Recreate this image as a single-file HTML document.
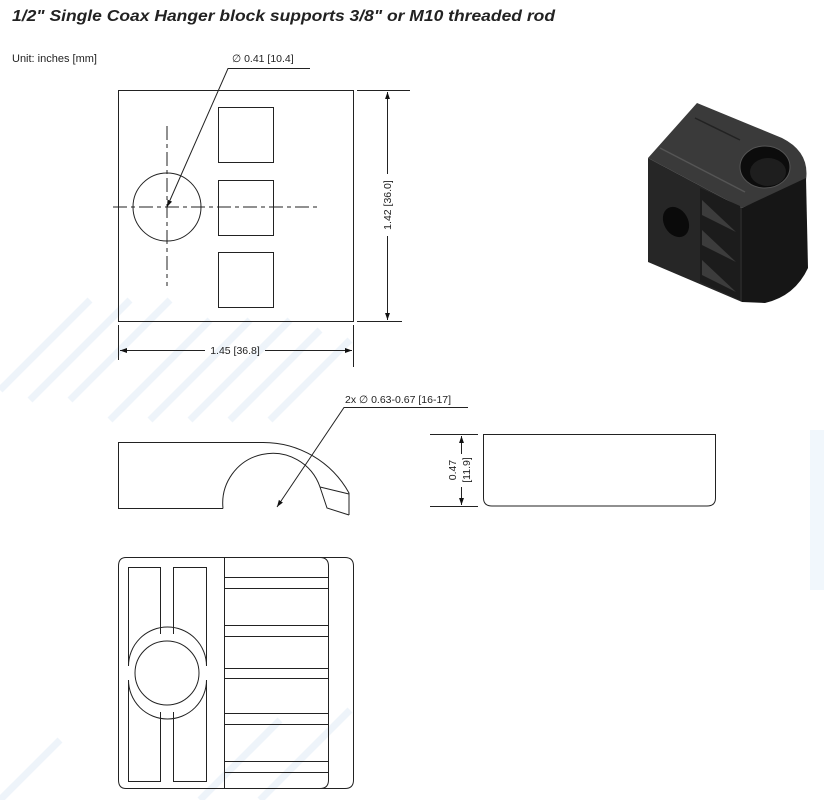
<!DOCTYPE html>
<html><head><meta charset="utf-8"><style>
html,body{margin:0;padding:0;background:#fff;}
svg{display:block;}
text{font-family:"Liberation Sans",sans-serif;fill:#222;}
</style></head><body>
<svg width="824" height="800" viewBox="0 0 824 800" xmlns="http://www.w3.org/2000/svg">
<defs>
<marker id="a" viewBox="0 0 10 10" refX="10" refY="5" markerWidth="7" markerHeight="7" orient="auto-start-reverse"><path d="M0,1.5 L10,5 L0,8.5 Z" fill="#111"/></marker>
</defs>
<rect width="824" height="800" fill="#fff"/>
<g stroke="#eef4fa" stroke-width="7">
<line x1="0" y1="390" x2="90" y2="300"/><line x1="30" y1="400" x2="130" y2="300"/><line x1="70" y1="400" x2="170" y2="300"/>
<line x1="110" y1="420" x2="210" y2="320"/><line x1="150" y1="420" x2="250" y2="320"/><line x1="190" y1="420" x2="290" y2="320"/>
<line x1="230" y1="420" x2="320" y2="330"/><line x1="270" y1="420" x2="350" y2="340"/>
<line x1="0" y1="800" x2="60" y2="740"/><line x1="200" y1="800" x2="280" y2="720"/><line x1="260" y1="800" x2="350" y2="710"/>
</g>
<rect x="810" y="430" width="14" height="160" fill="#f1f7fc"/>

<text x="12" y="21" font-size="16" font-weight="bold" font-style="italic" textLength="543" lengthAdjust="spacingAndGlyphs">1/2" Single Coax Hanger block supports  3/8" or M10 threaded rod</text>
<text x="12" y="62" font-size="11">Unit: inches [mm]</text>

<g fill="none" stroke="#222" stroke-width="1">
<rect x="118.5" y="90.5" width="235" height="231"/>
<rect x="218.5" y="107.5" width="55" height="55"/>
<rect x="218.5" y="180.5" width="55" height="55"/>
<rect x="218.5" y="252.5" width="55" height="55"/>
<circle cx="167" cy="207" r="34"/>
<line x1="113" y1="207" x2="320" y2="207" stroke-dasharray="14,4,4,4"/>
<line x1="167" y1="126" x2="167" y2="286" stroke-dasharray="14,4,4,4"/>
<polyline points="310,68.5 228,68.5 167,207" marker-end="url(#a)"/>
<line x1="357" y1="90.5" x2="410" y2="90.5"/>
<line x1="357" y1="321.5" x2="402" y2="321.5"/>
<line x1="387.5" y1="92" x2="387.5" y2="174" marker-start="url(#a)"/>
<line x1="387.5" y1="236" x2="387.5" y2="320" marker-end="url(#a)"/>
<line x1="118.5" y1="325" x2="118.5" y2="360"/>
<line x1="353.5" y1="325" x2="353.5" y2="367"/>
<line x1="120" y1="350.5" x2="205" y2="350.5" marker-start="url(#a)"/>
<line x1="265" y1="350.5" x2="352" y2="350.5" marker-end="url(#a)"/>

<path d="M263,442.5 H118.5 V508.5 H223"/>
<path d="M263,442.5 A98,98 0 0 1 349,493 V515"/>
<path d="M223,508.5 A50,50 0 0 1 320,487 L327,508 L349,515"/>
<line x1="320" y1="487" x2="349" y2="494"/>
<polyline points="468,407.5 344,407.5 277,507" marker-end="url(#a)"/>

<path d="M483.5,434.5 H715.5 V498 Q715.5,506 707,506 H492 Q483.5,506 483.5,498 Z"/>
<line x1="430" y1="434.5" x2="478" y2="434.5"/>
<line x1="430" y1="506.5" x2="478" y2="506.5"/>
<line x1="461.5" y1="436" x2="461.5" y2="454" marker-start="url(#a)"/>
<line x1="461.5" y1="487" x2="461.5" y2="505" marker-end="url(#a)"/>

<path d="M126,557.5 H345 Q353.5,557.5 353.5,566 V780 Q353.5,788.5 345,788.5 H126 Q118.5,788.5 118.5,780 V566 Q118.5,557.5 126,557.5 Z"/>
<path d="M320,557.5 Q328.5,557.5 328.5,566 V780 Q328.5,788.5 320,788.5"/>
<line x1="224.5" y1="557" x2="224.5" y2="788"/>
<g>
<line x1="224" y1="577.5" x2="328" y2="577.5"/><line x1="224" y1="588.5" x2="328" y2="588.5"/>
<line x1="224" y1="625.5" x2="328" y2="625.5"/><line x1="224" y1="636.5" x2="328" y2="636.5"/>
<line x1="224" y1="668.5" x2="328" y2="668.5"/><line x1="224" y1="678.5" x2="328" y2="678.5"/>
<line x1="224" y1="713.5" x2="328" y2="713.5"/><line x1="224" y1="724.5" x2="328" y2="724.5"/>
<line x1="224" y1="761.5" x2="328" y2="761.5"/><line x1="224" y1="772.5" x2="328" y2="772.5"/>
</g>
<path d="M160.5,634 V567.5 H128.5 V666 M128.5,680 V781.5 H160.5 V712"/>
<path d="M173.5,634 V567.5 H206.5 V666 M206.5,680 V781.5 H173.5 V712"/>
<path d="M128.5,666 A39,39 0 0 1 206.5,666"/>
<path d="M128.5,680 A39,39 0 0 0 206.5,680"/>
<circle cx="167" cy="673" r="32"/>
</g>
<text x="232" y="62" font-size="10.5">∅ 0.41 [10.4]</text>
<text x="0" y="0" font-size="10.5" text-anchor="middle" transform="translate(391,205) rotate(-90)">1.42 [36.0]</text>
<text x="235" y="354" font-size="10.5" text-anchor="middle">1.45 [36.8]</text>
<text x="345" y="403" font-size="10.5">2x ∅ 0.63-0.67 [16-17]</text>
<text x="0" y="0" font-size="10.5" text-anchor="middle" transform="translate(456,470) rotate(-90)">0.47</text>
<text x="0" y="0" font-size="10.5" text-anchor="middle" transform="translate(470,470) rotate(-90)">[11.9]</text>

<g>
<path d="M648,158 L697,103 L782,138 Q810,152 806,180 L742,208 Z" fill="#3a3a3a"/>
<path d="M648,158 L742,208 L742,302 L648,262 Z" fill="#262626"/>
<path d="M742,208 L806,178 L808,268 Q795,296 765,303 L742,302 Z" fill="#161616"/>
<line x1="660" y1="148" x2="745" y2="192" stroke="#555" stroke-width="1.5"/>
<line x1="695" y1="118" x2="740" y2="140" stroke="#222" stroke-width="1.5"/>
<ellipse cx="765" cy="167" rx="25" ry="21" fill="#0c0c0c" stroke="#555" stroke-width="1"/>
<ellipse cx="768" cy="172" rx="18" ry="14" fill="#1e1e1e"/>
<ellipse cx="676" cy="222" rx="12" ry="16" transform="rotate(-30 676 222)" fill="#0a0a0a"/>
<path d="M700,188 L740,206 L740,300 L700,282 Z" fill="#1c1c1c"/>
<path d="M702,200 L736,232 L702,215 Z M702,230 L736,262 L702,245 Z M702,260 L736,292 L702,275 Z" fill="#3c3c3c"/>
</g>
</svg>
</body></html>
